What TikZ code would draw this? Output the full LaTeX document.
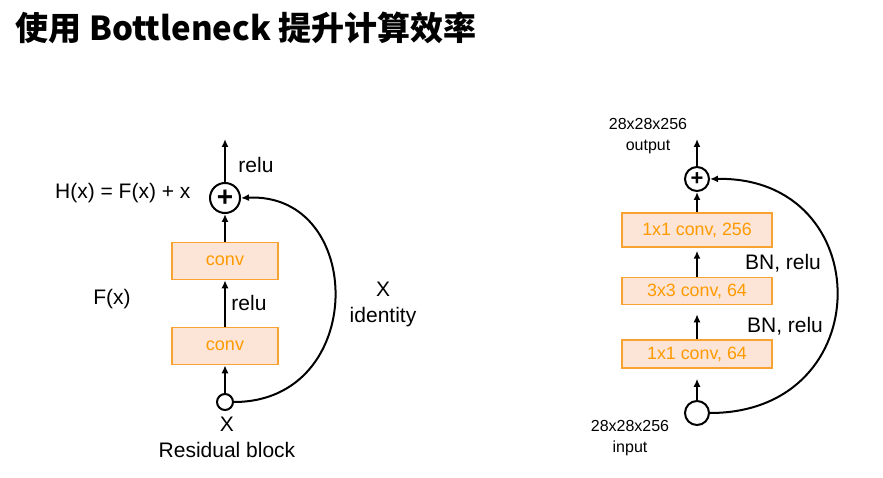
\documentclass[tikz,border=0pt]{standalone}
\usepackage{fontspec}
\setmainfont{Liberation Sans}
\newfontfamily\cjk{Noto Sans CJK SC}
\usetikzlibrary{arrows.meta}
\definecolor{blockfill}{HTML}{FCE4D6}
\definecolor{blockline}{HTML}{F8A232}
\definecolor{blocktext}{HTML}{FF9A00}

\begin{document}
\begin{tikzpicture}[x=1pt,y=-1pt,
  block/.style={rectangle,draw=blockline,fill=blockfill,line width=1.5pt,text=blocktext,inner sep=0pt},
  sumnode/.style={circle,draw,line width=2pt,inner sep=0pt,minimum size=#1},
  arr/.style={-{Latex[length=8pt,width=7pt]},line width=2pt},
  lbl/.style={font=\fontsize{21}{26}\selectfont,align=center},
  dims/.style={font=\fontsize{16}{21}\selectfont,align=center}]
\useasboundingbox (0,0) rectangle (883,478);

% title
\node[anchor=west,font=\fontsize{33}{38}\selectfont\cjk\bfseries] (title) at (12,28) {使用 Bottleneck 提升计算效率};

% residual block
\node[sumnode=30pt,font=\fontsize{28}{28}\selectfont\bfseries] (plusL) at (225,198) {+};
\node[block,minimum width=106pt,minimum height=37pt,font=\fontsize{18}{18}\selectfont] (convA) at (225,261) {conv};
\node[block,minimum width=106pt,minimum height=37pt,font=\fontsize{18}{18}\selectfont] (convB) at (225,346) {conv};
\node[sumnode=16pt] (inL) at (225,402) {};
\coordinate (outL) at (225,139);

\draw[arr] (inL) -- (convB);
\draw[arr] (convB) -- (convA);
\draw[arr] (convA) -- (plusL);
\draw[arr] (plusL) -- (outL);
\draw[arr] (inL.east) .. controls (368,402) and (366,192) .. (plusL.east);

\node[lbl] (reluA) at (256,165) {relu};
\node[lbl] (reluB) at (249,303) {relu};
\node[lbl,anchor=east] (hx) at (194,193) {H(x) = F(x) + x};
\node[lbl] (fx) at (112,299) {F(x)};
\node[lbl] (ident) at (383,304) {X\\identity};
\node[lbl] (caption) at (227,437) {X\\Residual block};

% bottleneck block
\node[sumnode=24pt,font=\fontsize{22}{22}\selectfont\bfseries] (plusR) at (697,179) {+};
\node[block,minimum width=150pt,minimum height=34pt,font=\fontsize{17.8}{18}\selectfont] (conv1) at (697,230) {1x1 conv, 256};
\node[block,minimum width=150pt,minimum height=27pt,font=\fontsize{17.8}{18}\selectfont] (conv3) at (697,291) {3x3 conv, 64};
\node[block,minimum width=150pt,minimum height=28pt,font=\fontsize{17.8}{18}\selectfont] (conv4) at (697,354) {1x1 conv, 64};
\node[sumnode=24pt] (inR) at (697,413) {};
\coordinate (outR) at (697,139);

\draw[arr,shorten >=10pt] (inR) -- (conv4);
\draw[arr,shorten >=9pt] (conv4) -- (conv3);
\draw[arr,shorten >=3pt] (conv3) -- (conv1);
\draw[arr] (conv1) -- (plusR);
\draw[arr] (plusR) -- (outR);
\draw[arr] (inR.east) .. controls (880,413) and (878,176) .. (plusR.east);

\node[lbl] (bnA) at (783,263) {BN, relu};
\node[lbl] (bnB) at (785,326) {BN, relu};
\node[dims] (output) at (648,136) {28x28x256\\output};
\node[dims] (input) at (630,438) {28x28x256\\input};
\end{tikzpicture}
\end{document}
